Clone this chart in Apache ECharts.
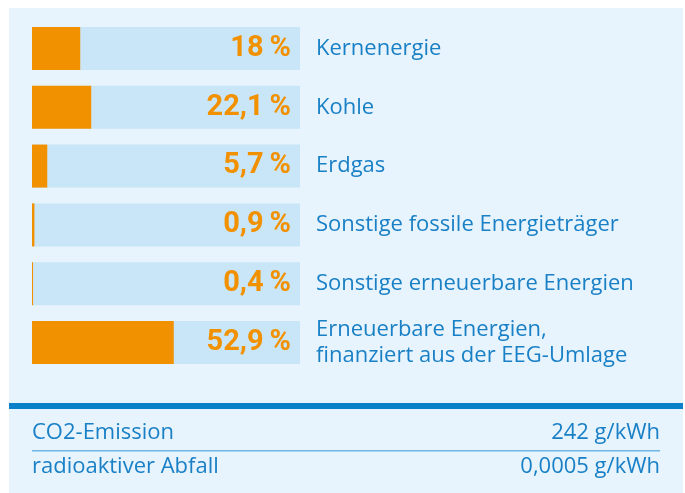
<!DOCTYPE html>
<html>
<head>
<meta charset="utf-8">
<script src="https://cdn.jsdelivr.net/npm/echarts@6/dist/echarts.min.js"></script>
<style>
html, body { margin: 0; padding: 0; background: #fff; }
#container { width: 685px; height: 493px; }
</style>
</head>
<body>
<div id="container"></div>
<script>
var categories = ['Kernenergie', 'Kohle', 'Erdgas', 'Sonstige fossile Energieträger',
    'Sonstige erneuerbare Energien', 'Erneuerbare Energien,\nfinanziert aus der EEG-Umlage'];
var shares = [18, 22.1, 5.7, 0.9, 0.4, 52.9];
var footerLabels = ['CO2-Emission', 'radioaktiver Abfall'];
var footerValues = ['242 g/kWh', '0,0005 g/kWh'];

var blue = '#1a80c6';
var orange = '#f29100';
var textFont = '"Open Sans"';

function pct(v) {
    return String(v).replace('.', ',') + '\u2009%';
}

var dom = document.getElementById('container');
var myChart = echarts.init(dom, null, { renderer: 'canvas' });

var graphics = [
    { type: 'rect', z: -10, shape: { x: 9, y: 8, width: 674, height: 485 }, style: { fill: '#e7f4fd' } },
    { type: 'rect', shape: { x: 9, y: 403, width: 674, height: 6 }, style: { fill: '#0a80c8' } },
    { type: 'rect', shape: { x: 32, y: 450, width: 628, height: 1.5 }, style: { fill: '#6cb6e3' } }
];
footerLabels.forEach(function (t, i) {
    graphics.push({ type: 'text', x: 32, y: 433 + i * 34,
        style: { text: t, fill: blue, font: '22px ' + textFont, verticalAlign: 'middle' } });
    graphics.push({ type: 'text', x: 660, y: 433 + i * 34,
        style: { text: footerValues[i], fill: blue, font: '22px ' + textFont,
            align: 'right', verticalAlign: 'middle' } });
});

var option = {
    animation: false,
    graphic: graphics,
    grid: { left: 32, width: 268, top: 19, height: 353 },
    xAxis: { type: 'value', min: 0, max: 100, show: false },
    yAxis: {
        type: 'category',
        data: categories,
        inverse: true,
        position: 'right',
        axisLine: { show: false },
        axisTick: { show: false },
        axisLabel: {
            margin: 16,
            color: blue,
            fontFamily: textFont,
            fontSize: 22,
            lineHeight: 26,
            align: 'left'
        }
    },
    series: [
        {
            type: 'bar',
            barWidth: 43,
            barGap: '-100%',
            silent: true,
            data: shares.map(function () { return 100; }),
            itemStyle: { color: '#c9e6f8' },
            label: {
                show: true,
                position: 'insideRight',
                distance: 9,
                color: orange,
                fontFamily: 'Roboto',
                fontWeight: 'bold',
                fontSize: 29,
                formatter: function (p) { return pct(shares[p.dataIndex]); }
            }
        },
        {
            type: 'bar',
            barWidth: 43,
            barGap: '-100%',
            barMinHeight: 1,
            data: shares,
            itemStyle: { color: orange }
        }
    ]
};

myChart.setOption(option, true);
</script>
</body>
</html>
